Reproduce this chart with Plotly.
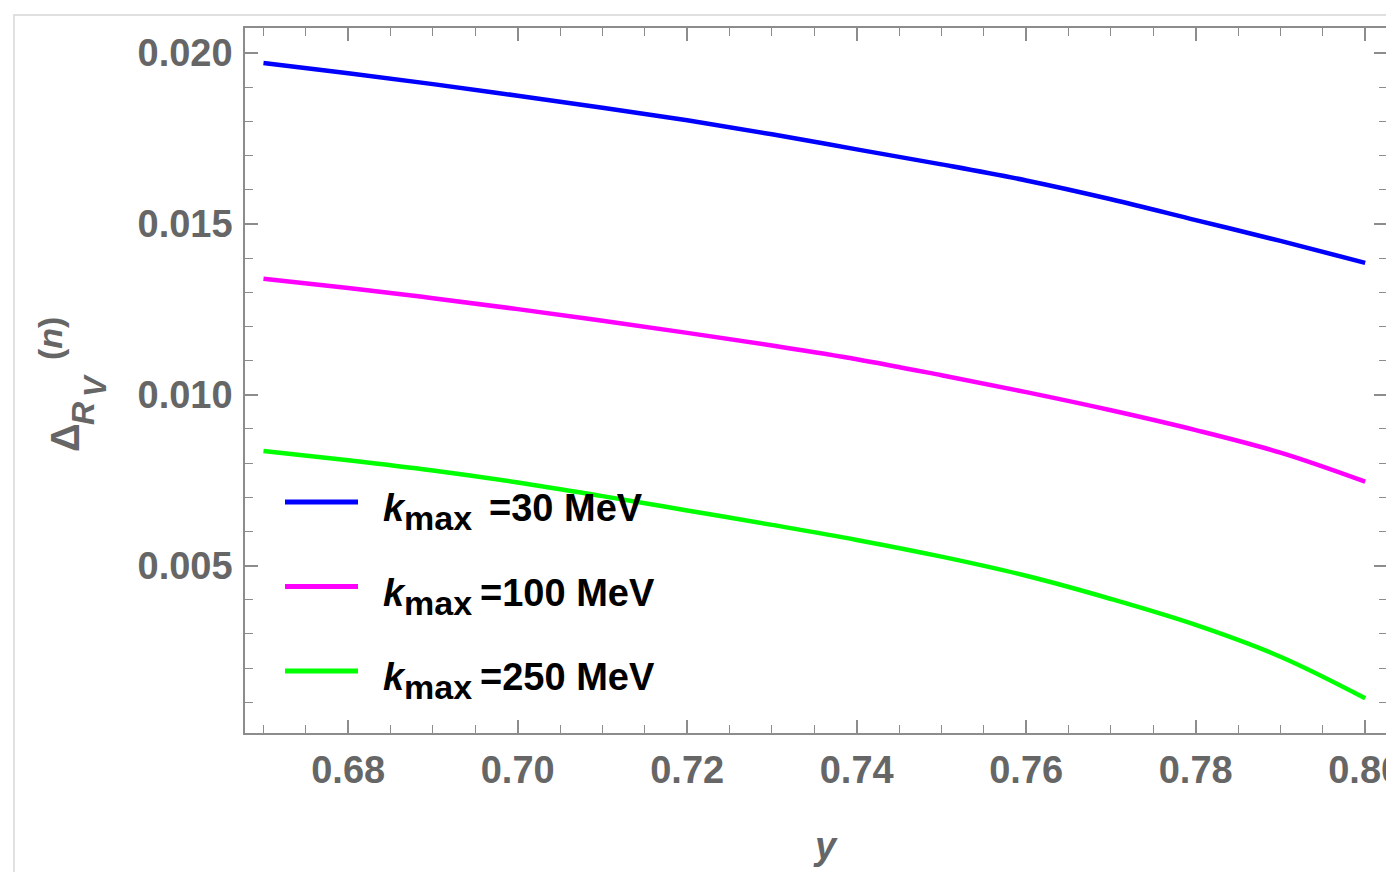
import plotly.graph_objects as go

# ---- data ----
y_values = [0.67, 0.68, 0.69, 0.70, 0.71, 0.72, 0.73, 0.74, 0.75, 0.76, 0.77, 0.78, 0.79, 0.80]
delta_k30 = [0.01971, 0.01941, 0.01909, 0.01875, 0.01840, 0.01803, 0.01762, 0.01718,
             0.01674, 0.01627, 0.01572, 0.01511, 0.01450, 0.01386]
delta_k100 = [0.013395, 0.013125, 0.012825, 0.012505, 0.012165, 0.011810, 0.011440, 0.011040,
              0.010570, 0.010075, 0.009545, 0.008965, 0.008305, 0.007455]
delta_k250 = [0.008352, 0.008082, 0.007782, 0.007432, 0.007032, 0.006612, 0.006190, 0.005750,
              0.005260, 0.004700, 0.004022, 0.003262, 0.002332, 0.001115]
legend_values = ["=30 MeV", "=100 MeV", "=250 MeV"]
series_colors = ["#0000ff", "#ff00ff", "#00ff00"]

# the page body adds an 8px margin; positions below are in window pixels
OFF = 8
W, H = 1394 - OFF, 872 - OFF
PL, PR, PT, PB = 245, 1387, 28, 733          # plot frame in window pixels
L, T = PL - OFF, PT - OFF
R, B = (OFF + W) - PR, (OFF + H) - PB
PW, PH = PR - PL, PB - PT

def px(x):
    return (x - PL) / PW

def py(y):
    return (PB - y) / PH

FONT = "Liberation Sans, Arial, Helvetica, sans-serif"
GREY = "#666666"
FRAME = "#8c8c8c"

fig = go.Figure()
for vals, lv, col in zip([delta_k30, delta_k100, delta_k250], legend_values, series_colors):
    fig.add_trace(go.Scatter(x=y_values, y=vals, mode="lines", name="k_max " + lv,
                             line=dict(color=col, width=4.5, shape="spline", smoothing=1.0),
                             showlegend=False))

axis_common = dict(showgrid=False, zeroline=False, showline=True, linecolor=FRAME, linewidth=1.5,
                   mirror="allticks", ticks="inside", ticklen=13, tickwidth=1.5, tickcolor=FRAME,
                   ticklabeloverflow="allow", automargin=False,
                   tickfont=dict(family=FONT, size=38, color=GREY, weight="bold"))

fig.update_xaxes(range=[0.66782, 0.802575], dtick=0.02, tick0=0.68, tickformat=".2f",
                 ticklabelstandoff=3,
                 minor=dict(dtick=0.005, ticks="inside", ticklen=8, tickwidth=1.2, tickcolor=FRAME),
                 **axis_common)
fig.update_yaxes(range=[0.0000995, 0.020732], dtick=0.005, tick0=0, tickformat=".3f",
                 ticklabelstandoff=3,
                 minor=dict(dtick=0.001, ticks="inside", ticklen=8, tickwidth=1.2, tickcolor=FRAME),
                 **axis_common)

annotations = []
# y-axis label pieces (rotated)
annotations.append(dict(text="<b>Δ</b>", x=px(65), y=py(438), font=dict(size=40)))
annotations.append(dict(text="<b><i>R</i></b>", x=px(83), y=py(414), font=dict(size=32)))
annotations.append(dict(text="<b><i>V</i></b>", x=px(95), y=py(386), font=dict(size=31)))
annotations.append(dict(text="<b>(<i>n</i>)</b>", x=px(50), y=py(339), font=dict(size=34)))
for a in annotations:
    a.update(xref="paper", yref="paper", textangle=-90, showarrow=False,
             xanchor="center", yanchor="middle")
    a["font"].update(family=FONT, color=GREY)

# x-axis label
annotations.append(dict(text="<b><i>y</i></b>", x=px(825), y=py(846), xref="paper", yref="paper",
                        showarrow=False, xanchor="center", yanchor="middle",
                        font=dict(family=FONT, size=38, color=GREY)))

# legend (manual)
legend_rows = [502, 586.5, 671]
value_x = [487, 478, 478]
shapes = []
for lv, col, yy, vx in zip(legend_values, series_colors, legend_rows, value_x):
    shapes.append(dict(type="line", xref="paper", yref="paper", x0=px(285), x1=px(358),
                       y0=py(yy), y1=py(yy), line=dict(color=col, width=5)))
    base = dict(xref="paper", yref="paper", showarrow=False, xanchor="left", yanchor="middle")
    annotations.append(dict(text="<b><i>k</i></b>", x=px(381), y=py(yy + 6),
                            font=dict(family=FONT, size=38, color="black"), **base))
    annotations.append(dict(text="<b>max</b>", x=px(402), y=py(yy + 16),
                            font=dict(family=FONT, size=34, color="black"), **base))
    annotations.append(dict(text="<b>" + lv + "</b>", x=px(vx), y=py(yy + 6),
                            font=dict(family=FONT, size=38, color="black"), **base))

# card outline of the screenshot
shapes.append(dict(type="rect", xref="paper", yref="paper", x0=px(14), x1=px(1420), y0=py(15), y1=py(900),
                   line=dict(color="#d6d6d6", width=1.5), layer="below"))

fig.update_layout(width=W, height=H, margin=dict(l=L, r=R, t=T, b=B, autoexpand=False),
                  paper_bgcolor="white", plot_bgcolor="white",
                  annotations=annotations, shapes=shapes)

fig.write_html("out.html")
